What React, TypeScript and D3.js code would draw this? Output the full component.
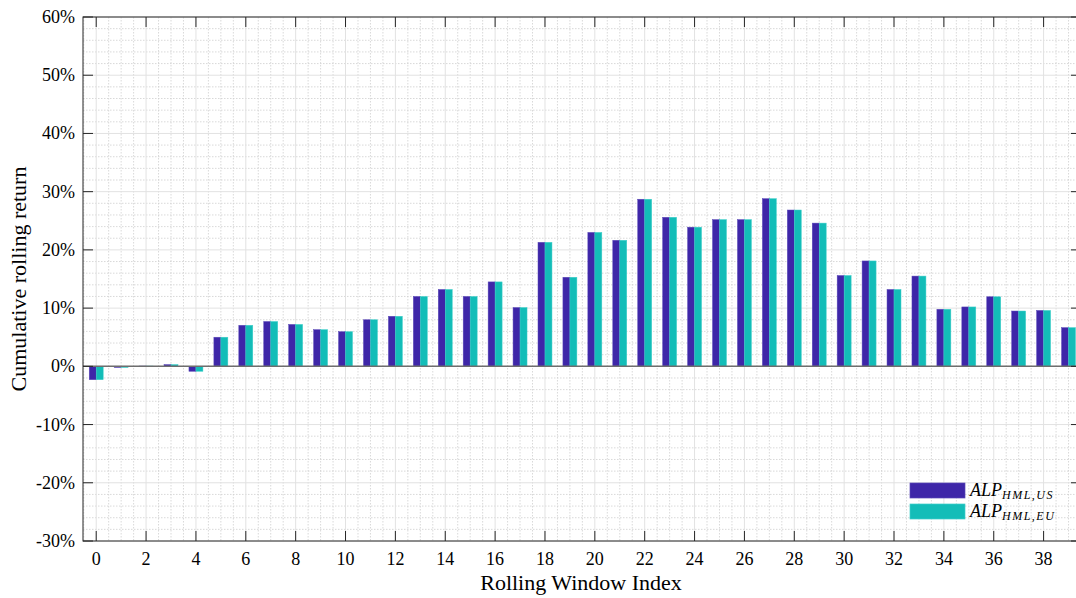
import React, { useEffect, useRef } from 'react';
import * as d3 from 'd3';

// rolling window index 0..39
const windowIndex = d3.range(0, 40);

// cumulative rolling return, percent
const usReturns = [
  -2.3, -0.2, 0.05, 0.3, -0.85, 5.0, 7.05, 7.7, 7.2, 6.3,
  5.95, 8.0, 8.6, 12.0, 13.2, 12.0, 14.5, 10.1, 21.3, 15.3,
  23.0, 21.65, 28.7, 25.6, 23.9, 25.2, 25.2, 28.8, 26.85, 24.6,
  15.6, 18.1, 13.2, 15.5, 9.8, 10.2, 11.95, 9.5, 9.6, 6.65
];
const euReturns = [
  -2.3, -0.2, 0.05, 0.3, -0.85, 5.0, 7.05, 7.7, 7.2, 6.3,
  5.95, 8.0, 8.6, 12.0, 13.2, 12.0, 14.5, 10.1, 21.3, 15.3,
  23.0, 21.65, 28.7, 25.6, 23.9, 25.2, 25.2, 28.8, 26.85, 24.6,
  15.6, 18.1, 13.2, 15.5, 9.8, 10.2, 11.95, 9.5, 9.6, 6.65
];

const yTicks = [-30, -20, -10, 0, 10, 20, 30, 40, 50, 60];
const xTicks = d3.range(0, 40, 2);

const series = [
  { name: 'US', values: usReturns, color: '#3e26a8', edge: '#5a48b8' },
  { name: 'EU', values: euReturns, color: '#13bdb8', edge: '#40cfca' }
];

const W = 1076;
const H = 598;

const App = () => {
  const svgRef = useRef<SVGSVGElement>(null);

  useEffect(() => {
    const svg = d3.select(svgRef.current);
    svg.selectAll('*').remove();

    const left = 83, right = 1081, top = 17, bottom = 541;
    const x = d3.scaleLinear().domain([-0.53, 39.5]).range([left, right]);
    const y = d3.scaleLinear().domain([-30, 60]).range([bottom, top]);
    const font = '"Liberation Serif", "DejaVu Serif", serif';

    svg.append('rect').attr('width', W).attr('height', H).attr('fill', '#fff');

    // minor grid
    const g = svg.append('g');
    d3.range(-0.5, 39.6, 0.5).filter(v => Math.abs(v % 2) > 1e-6).forEach(v => {
      g.append('line')
        .attr('x1', x(v)).attr('x2', x(v)).attr('y1', top).attr('y2', bottom)
        .attr('stroke', '#cfcfcf').attr('stroke-width', 0.8).attr('stroke-dasharray', '1.5,1.5');
    });
    d3.range(-30, 61, 2).filter(v => v % 10 !== 0).forEach(v => {
      g.append('line')
        .attr('x1', left).attr('x2', right).attr('y1', y(v)).attr('y2', y(v))
        .attr('stroke', '#cfcfcf').attr('stroke-width', 0.8).attr('stroke-dasharray', '1.5,1.5');
    });
    // major grid
    xTicks.forEach(v => {
      g.append('line')
        .attr('x1', x(v)).attr('x2', x(v)).attr('y1', top).attr('y2', bottom)
        .attr('stroke', '#e2e2e2').attr('stroke-width', 1);
    });
    yTicks.forEach(v => {
      g.append('line')
        .attr('x1', left).attr('x2', right).attr('y1', y(v)).attr('y2', y(v))
        .attr('stroke', '#e2e2e2').attr('stroke-width', 1);
    });

    // bars
    const barW = x(0.28) - x(0);
    series.forEach((s, si) => {
      svg.append('g')
        .selectAll('rect')
        .data(windowIndex)
        .join('rect')
        .attr('x', i => x(i) - barW + si * barW)
        .attr('y', i => y(Math.max(0, s.values[i])))
        .attr('width', barW)
        .attr('height', i => Math.abs(y(s.values[i]) - y(0)))
        .attr('fill', s.color)
        .attr('stroke', s.edge)
        .attr('stroke-width', 0.5);
    });

    // zero line
    svg.append('line')
      .attr('x1', left).attr('x2', right).attr('y1', y(0)).attr('y2', y(0))
      .attr('stroke', '#6e6e6e').attr('stroke-width', 1.5);

    // axes box
    const axisColor = '#262626';
    svg.append('rect')
      .attr('x', left).attr('y', top).attr('width', right - left).attr('height', bottom - top)
      .attr('fill', 'none').attr('stroke', axisColor).attr('stroke-width', 1);

    // ticks
    xTicks.forEach(v => {
      svg.append('line').attr('x1', x(v)).attr('x2', x(v)).attr('y1', bottom).attr('y2', bottom - 10)
        .attr('stroke', axisColor);
      svg.append('line').attr('x1', x(v)).attr('x2', x(v)).attr('y1', top).attr('y2', top + 10)
        .attr('stroke', axisColor);
      svg.append('text').attr('x', x(v)).attr('y', 565)
        .attr('text-anchor', 'middle').attr('font-family', font).attr('font-size', 18)
        .attr('fill', '#000').text(v);
    });
    yTicks.forEach(v => {
      svg.append('line').attr('x1', left).attr('x2', left + 10).attr('y1', y(v)).attr('y2', y(v))
        .attr('stroke', axisColor);
      svg.append('line').attr('x1', right).attr('x2', right - 10).attr('y1', y(v)).attr('y2', y(v))
        .attr('stroke', axisColor);
      svg.append('text').attr('x', 75).attr('y', y(v) + 6)
        .attr('text-anchor', 'end').attr('font-family', font).attr('font-size', 18)
        .attr('fill', '#000').text(`${v}%`);
    });

    // axis titles
    svg.append('text').attr('x', 581).attr('y', 590)
      .attr('text-anchor', 'middle').attr('font-family', font).attr('font-size', 22)
      .attr('fill', '#000').text('Rolling Window Index');
    svg.append('text')
      .attr('transform', `translate(26,${(top + bottom) / 2}) rotate(-90)`)
      .attr('text-anchor', 'middle').attr('font-family', font).attr('font-size', 22)
      .attr('fill', '#000').text('Cumulative rolling return');

    // legend
    const legend = [
      { color: series[0].color, edge: series[0].edge, sub: 'HML,US', y0: 483 },
      { color: series[1].color, edge: series[1].edge, sub: 'HML,EU', y0: 504 }
    ];
    legend.forEach(l => {
      svg.append('rect').attr('x', 910).attr('y', l.y0).attr('width', 55).attr('height', 15)
        .attr('fill', l.color).attr('stroke', l.edge).attr('stroke-width', 0.7);
      const t = svg.append('text').attr('x', 970).attr('y', l.y0 + 13)
        .attr('font-family', font).attr('font-style', 'italic').attr('font-size', 18)
        .attr('fill', '#000');
      t.append('tspan').text('ALP');
      t.append('tspan').attr('dy', 3).attr('font-size', 12).attr('letter-spacing', 1.5).text(l.sub);
    });
  }, []);

  return (
    <svg ref={svgRef} width={W} height={H}
      style={{ position: 'absolute', left: 0, top: 0, display: 'block' }} />
  );
};

export default App;
